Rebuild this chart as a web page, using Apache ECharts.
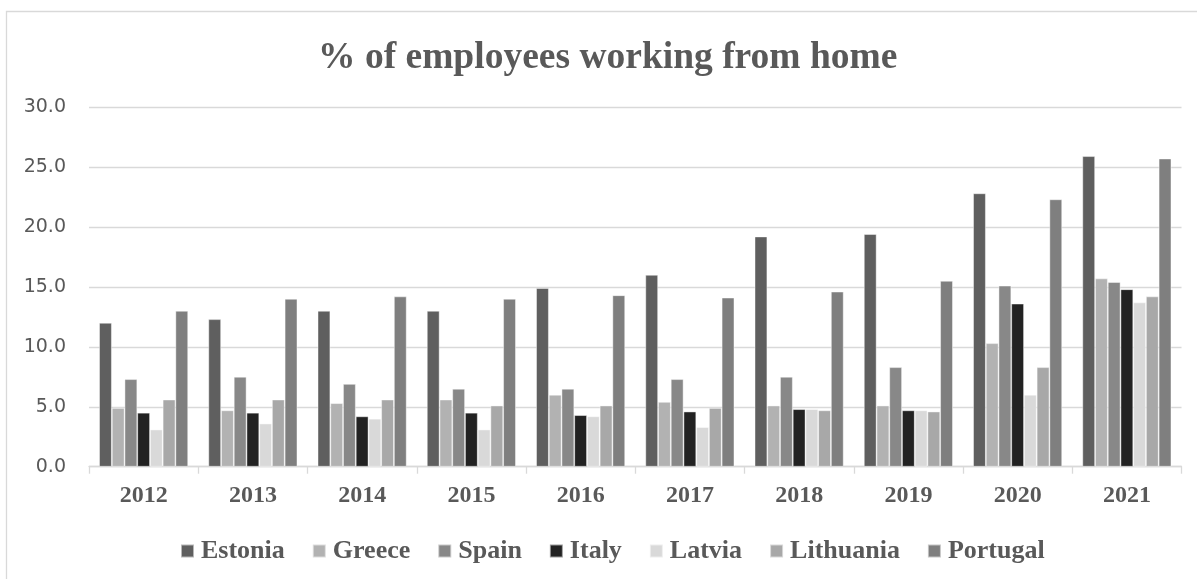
<!DOCTYPE html>
<html>
<head>
<meta charset="utf-8">
<title>% of employees working from home</title>
<script src="https://cdn.jsdelivr.net/npm/echarts@6/dist/echarts.min.js"></script>
<style>
  html, body { margin: 0; padding: 0; background: #fff; }
  #chart { width: 1197px; height: 579px; }
</style>
</head>
<body>
<div id="chart"></div>
<script>
// Share of employees usually working from home, by country and year (%)
const years = ['2012', '2013', '2014', '2015', '2016', '2017', '2018', '2019', '2020', '2021'];

const estonia   = [12.0, 12.3, 13.0, 13.0, 14.9, 16.0, 19.2, 19.4, 22.8, 25.9];
const greece    = [4.9, 4.7, 5.3, 5.6, 6.0, 5.4, 5.1, 5.1, 10.3, 15.7];
const spain     = [7.3, 7.5, 6.9, 6.5, 6.5, 7.3, 7.5, 8.3, 15.1, 15.4];
const italy     = [4.5, 4.5, 4.2, 4.5, 4.3, 4.6, 4.8, 4.7, 13.6, 14.8];
const latvia    = [3.1, 3.6, 4.0, 3.1, 4.2, 3.3, 4.8, 4.7, 6.0, 13.7];
const lithuania = [5.6, 5.6, 5.6, 5.1, 5.1, 4.9, 4.7, 4.6, 8.3, 14.2];
const portugal  = [13.0, 14.0, 14.2, 14.0, 14.3, 14.1, 14.6, 15.5, 22.3, 25.7];

const countries = ['Estonia', 'Greece', 'Spain', 'Italy', 'Latvia', 'Lithuania', 'Portugal'];
const values = [estonia, greece, spain, italy, latvia, lithuania, portugal];
const shades = ['#5f5f5f', '#b2b2b2', '#888888', '#222222', '#d9d9d9', '#a8a8a8', '#7f7f7f'];

const textGrey = '#595959';
const lineGrey = '#d9d9d9';
const serif = '"Liberation Serif", "Times New Roman", serif';
const sans = '"DejaVu Sans", "Open Sans", sans-serif';

const chart = echarts.init(document.getElementById('chart'), null, { renderer: 'canvas' });

chart.setOption({
  animation: false,
  backgroundColor: '#ffffff',
  color: shades,
  graphic: [{
    type: 'rect',
    shape: { x: 6.5, y: 11.5, width: 1300, height: 700 },
    style: { fill: 'none', stroke: lineGrey, lineWidth: 1.3 },
    silent: true
  }],
  title: {
    text: '% of employees working from home',
    left: 313,
    top: 34,
    textStyle: {
      fontFamily: serif,
      fontWeight: 'bold',
      fontSize: 37.5,
      color: textGrey
    }
  },
  legend: {
    left: 175,
    top: 533,
    icon: 'rect',
    itemWidth: 13,
    itemHeight: 13,
    itemGap: 27,
    data: countries,
    textStyle: {
      fontFamily: serif,
      fontWeight: 'bold',
      fontSize: 26,
      color: textGrey,
      padding: [0, 0, 0, 2]
    }
  },
  grid: {
    left: 89,
    right: 15.5,
    top: 107,
    bottom: 112.3
  },
  xAxis: {
    type: 'category',
    data: years,
    axisLine: { show: true, lineStyle: { color: lineGrey, width: 1.3 } },
    axisTick: { show: true, length: 7, lineStyle: { color: lineGrey, width: 1.3 } },
    axisLabel: {
      margin: 17,
      fontFamily: serif,
      fontWeight: 'bold',
      fontSize: 24,
      color: textGrey
    },
    splitLine: { show: false }
  },
  yAxis: {
    type: 'value',
    min: 0,
    max: 30,
    interval: 5,
    axisLine: { show: false },
    axisTick: { show: false },
    axisLabel: {
      margin: 23,
      fontFamily: sans,
      fontSize: 19,
      color: textGrey,
      formatter: v => v.toFixed(1)
    },
    splitLine: { show: true, lineStyle: { color: lineGrey, width: 1.3 } }
  },
  series: countries.map((name, i) => ({
    name: name,
    type: 'bar',
    data: values[i],
    barGap: '0%',
    barCategoryGap: '18.5%',
    itemStyle: {
      color: shades[i],
      borderColor: 'rgba(255,255,255,0.55)',
      borderWidth: 0.8
    }
  }))
});
</script>
</body>
</html>
